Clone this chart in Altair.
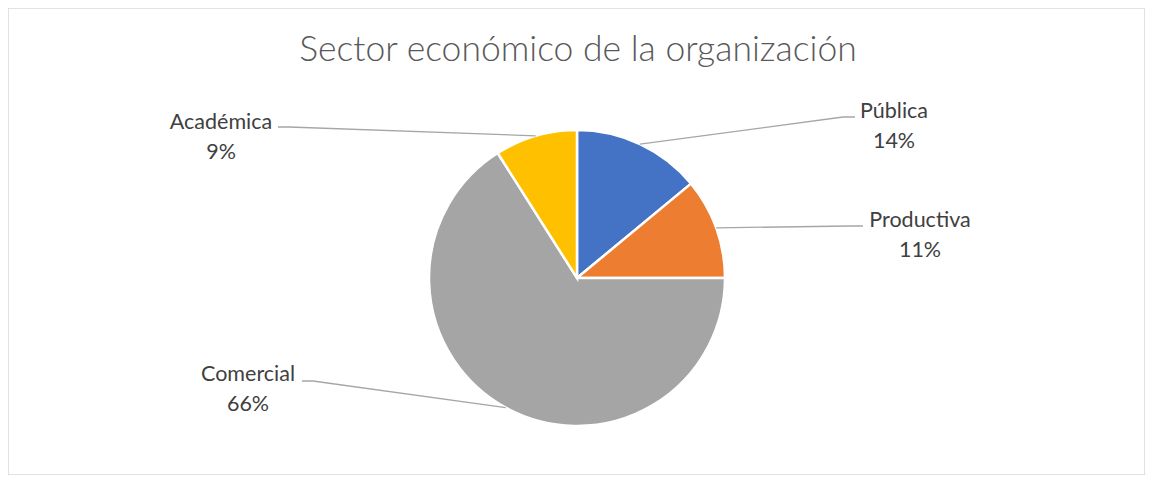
import math
import altair as alt
import pandas as pd

# ---- data ----
categories = ["Pública", "Productiva", "Comercial", "Académica"]
values = [14, 11, 66, 9]
colors = ["#4472C4", "#ED7D31", "#A5A5A5", "#FFC000"]
title_text = "Sector económico de la organización"

# ---- layout (page coordinates) ----
W, H = 1137, 467
OX, OY = 8, 8
cx, cy, R = 577, 278, 148
label_x = [894, 920, 248, 221]
label_y = [118, 227, 381, 129]          # baseline of first line
elbow_x = [843, 850, 313, 289]
elbow_y = [117, 226, 381, 127]
hook_x = [855, 863, 302, 278]

total = sum(values)
order = list(range(len(categories)))
pie_df = pd.DataFrame({"cat": categories, "val": values, "ord": order})

# leader lines from slice mid-angle
rows = []
cum = 0
for i, (c, v) in enumerate(zip(categories, values)):
    mid = (cum + v / 2) / total * 2 * math.pi
    cum += v
    sx = cx + R * math.sin(mid)
    sy = cy - R * math.cos(mid)
    rows += [
        {"cat": c, "k": 0, "x": sx, "y": sy},
        {"cat": c, "k": 1, "x": elbow_x[i], "y": elbow_y[i]},
        {"cat": c, "k": 2, "x": hook_x[i], "y": elbow_y[i]},
    ]
line_df = pd.DataFrame(rows)

lab_df = pd.DataFrame({
    "cat": categories,
    "x": label_x,
    "y": label_y,
    "txt": [f"{c}\n{round(v / total * 100)}%" for c, v in zip(categories, values)],
})
title_df = pd.DataFrame({"t": [title_text]})

xs = alt.Scale(domain=[OX, OX + W], range=[0, W])
ys = alt.Scale(domain=[OY, OY + H], range=[0, H])

pie = alt.Chart(pie_df).mark_arc(radius=R, stroke="white", strokeWidth=2.5).encode(
    theta=alt.Theta("val:Q", stack=True),
    order=alt.Order("ord:Q"),
    color=alt.Color("cat:N", scale=alt.Scale(domain=categories, range=colors), legend=None),
    x=alt.value(cx - OX),
    y=alt.value(cy - OY),
)

lines = alt.Chart(line_df).mark_line(color="#A6A6A6", strokeWidth=1.3).encode(
    x=alt.X("x:Q", scale=xs, axis=None),
    y=alt.Y("y:Q", scale=ys, axis=None),
    detail="cat:N",
    order="k:Q",
)

labels = alt.Chart(lab_df).mark_text(
    font="Lato", fontSize=21.5, color="#404040", align="center",
    baseline="alphabetic", lineBreak="\n", lineHeight=29.5,
).encode(
    x=alt.X("x:Q", scale=xs, axis=None),
    y=alt.Y("y:Q", scale=ys, axis=None),
    text="txt:N",
)

title = alt.Chart(title_df).mark_text(
    font="Lato", fontSize=35.5, fontWeight=300, color="#595959",
    align="center", baseline="alphabetic",
).encode(
    x=alt.value(578 - OX),
    y=alt.value(61 - OY),
    text="t:N",
)

chart = alt.layer(pie, lines, labels, title).properties(
    width=W, height=H, padding=0
).configure_view(stroke="#D9D9D9", strokeWidth=1.5)

chart.save("out.html", embed_options={"renderer": "svg", "actions": False})
